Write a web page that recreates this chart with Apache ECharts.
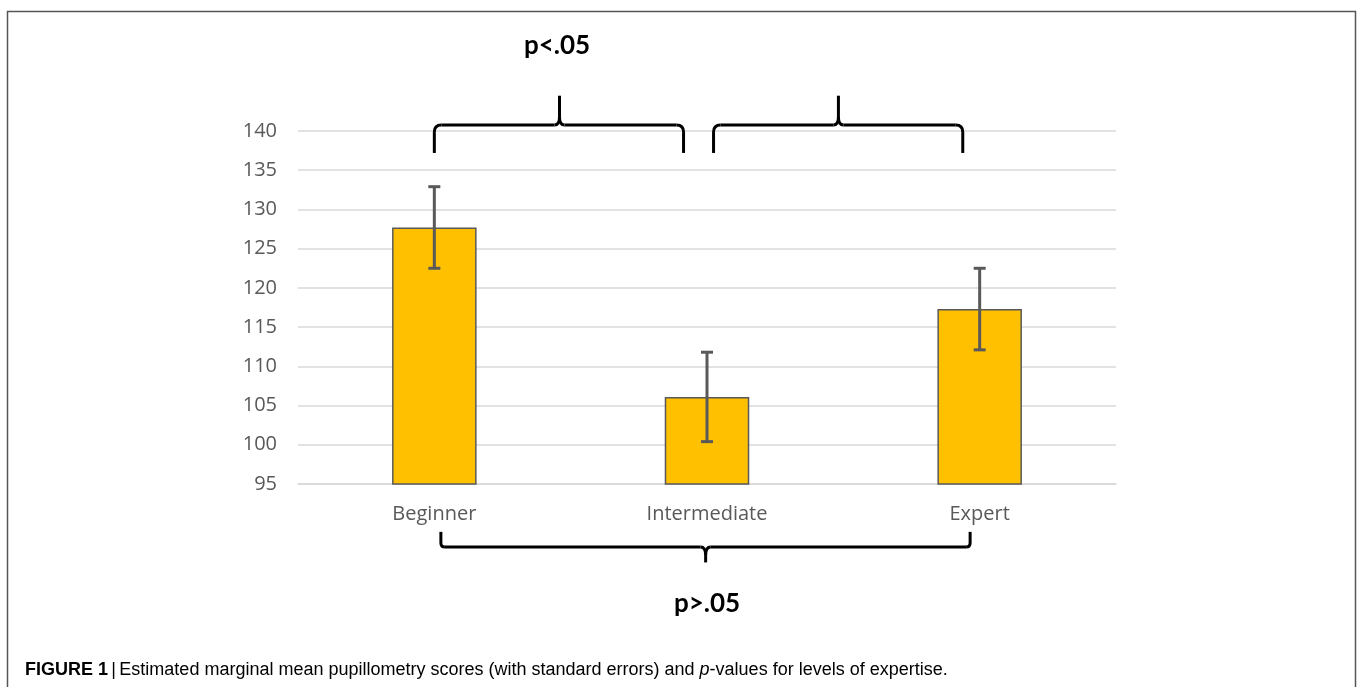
<!DOCTYPE html>
<html>
<head>
<meta charset="utf-8">
<script src="https://cdn.jsdelivr.net/npm/echarts@6/dist/echarts.min.js"></script>
<style>
html,body{margin:0;padding:0;background:#fff;}
#chart{width:1358px;height:687px;}
</style>
</head>
<body>
<div id="chart"></div>
<script>
var categories = ['Beginner', 'Intermediate', 'Expert'];
var means = [127.7, 106.1, 117.3];
var stdErrors = [5.2, 5.7, 5.2];
var yTicks = [95, 100, 105, 110, 115, 120, 125, 130, 135, 140];
var topLabel = 'p<.05';
var bottomLabel = 'p>.05';

var chart = echarts.init(document.getElementById('chart'));

var errorData = means.map(function (m, i) { return [i, m - stdErrors[i], m + stdErrors[i]]; });

var option = {
  animation: false,
  backgroundColor: '#ffffff',
  grid: { left: 298, right: 242, top: 131, bottom: 203, containLabel: false },
  xAxis: {
    type: 'category',
    data: categories,
    axisLine: { show: true, lineStyle: { color: '#d9d9d9', width: 1.5 } },
    axisTick: { show: false },
    axisLabel: { color: '#595959', fontSize: 20, fontFamily: 'Open Sans', margin: 20 }
  },
  yAxis: {
    type: 'value',
    min: yTicks[0],
    max: yTicks[yTicks.length - 1],
    interval: 5,
    axisLine: { show: false },
    axisTick: { show: false },
    splitLine: { lineStyle: { color: '#d9d9d9', width: 1.5 } },
    axisLabel: { color: '#595959', fontSize: 20, fontFamily: 'Open Sans', margin: 21 }
  },
  series: [
    {
      type: 'bar',
      data: means,
      barWidth: '31%',
      itemStyle: { color: '#FFC000', borderColor: '#595959', borderWidth: 1.5 },
      z: 2
    },
    {
      type: 'custom',
      data: errorData,
      z: 5,
      renderItem: function (params, api) {
        var x = api.value(0);
        var lo = api.coord([x, api.value(1)]);
        var hi = api.coord([x, api.value(2)]);
        var cw = 6;
        var st = { stroke: '#595959', lineWidth: 3 };
        return {
          type: 'group',
          children: [
            { type: 'line', shape: { x1: lo[0], y1: lo[1], x2: hi[0], y2: hi[1] }, style: st },
            { type: 'line', shape: { x1: hi[0] - cw, y1: hi[1], x2: hi[0] + cw, y2: hi[1] }, style: st },
            { type: 'line', shape: { x1: lo[0] - cw, y1: lo[1], x2: lo[0] + cw, y2: lo[1] }, style: st }
          ]
        };
      }
    }
  ]
};
chart.setOption(option);

// Brackets positioned from the axes
function catX(f) {
  var p0 = chart.convertToPixel({ xAxisIndex: 0 }, 0);
  var p1 = chart.convertToPixel({ xAxisIndex: 0 }, 1);
  return p0 + (p1 - p0) * f;
}
function valY(v) { return chart.convertToPixel({ yAxisIndex: 0 }, v); }

var bs = { stroke: '#000', lineWidth: 3, fill: null, lineCap: 'butt' };
function brace(x1, x2, xc, y0, yEnd, yTip, r) {
  var s = yEnd > y0 ? 1 : -1;
  function L(a, b, c, d) { return { type: 'line', shape: { x1: a, y1: b, x2: c, y2: d }, style: bs, silent: true }; }
  function Q(a, b, cx, cy, c, d) { return { type: 'bezierCurve', shape: { x1: a, y1: b, cpx1: cx, cpy1: cy, x2: c, y2: d }, style: bs, silent: true }; }
  return [
    L(x1, yEnd, x1, y0 + s * r),
    Q(x1, y0 + s * r, x1, y0, x1 + r, y0),
    L(x1 + r, y0, xc - 5, y0),
    Q(xc - 5, y0, xc, y0, xc, y0 - s * 8),
    L(xc, y0 - s * 8, xc, yTip),
    Q(xc, y0 - s * 8, xc, y0, xc + 5, y0),
    L(xc + 5, y0, x2 - r, y0),
    Q(x2 - r, y0, x2, y0, x2, y0 + s * r),
    L(x2, y0 + s * r, x2, yEnd)
  ];
}

var topY = valY(140.76), topEnd = valY(137.2), topTip = valY(144.5);
var botY = valY(86.97), botEnd = valY(88.9), botTip = valY(85.0);

var gfx = [
  { type: 'rect', shape: { x: 7.5, y: 11.5, width: 1348, height: 700 }, style: { fill: null, stroke: '#555', lineWidth: 1.5 }, silent: true }
];
gfx = gfx.concat(brace(catX(0), catX(0.914), catX(0.459), topY, topEnd, topTip, 7));
gfx = gfx.concat(brace(catX(1.024), catX(1.938), catX(1.482), topY, topEnd, topTip, 7));
gfx = gfx.concat(brace(catX(0.024), catX(1.965), catX(0.995), botY, botEnd, botTip, 4));
gfx.push({ type: 'text', x: 557, y: 46, style: { text: topLabel, font: 'bold 26px Lato', fill: '#000', align: 'center', verticalAlign: 'middle' } });
gfx.push({ type: 'text', x: 707, y: 604, style: { text: bottomLabel, font: 'bold 26px Lato', fill: '#000', align: 'center', verticalAlign: 'middle' } });
gfx.push({ type: 'text', x: 25, y: 670, style: {
  text: '{b|FIGURE 1} {s||} {n|Estimated marginal mean pupillometry scores (with standard errors) and }{i|p}{n|-values for levels of expertise.}',
  verticalAlign: 'middle',
  rich: {
    b: { fontWeight: 'bold', fontSize: 18, fontFamily: '"Liberation Sans"', color: '#222' },
    s: { fontSize: 18, fontFamily: '"Liberation Sans"', color: '#555' },
    n: { fontSize: 18, fontFamily: '"Liberation Sans"', color: '#222' },
    i: { fontStyle: 'italic', fontSize: 18, fontFamily: '"Liberation Sans"', color: '#222' }
  }
} });

chart.setOption({ graphic: gfx });
</script>
</body>
</html>
